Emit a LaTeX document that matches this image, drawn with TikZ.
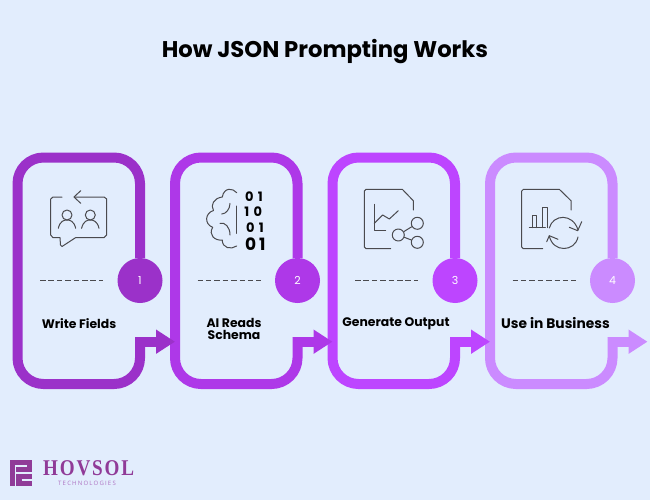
\documentclass[tikz,border=0pt]{standalone}
\usepackage{fontspec}
\setmainfont{Poppins}
\newfontfamily\logofont[LetterSpace=8,FakeStretch=0.85]{Liberation Serif}
\newfontfamily\subfont[LetterSpace=20]{Open Sans}
\usetikzlibrary{arrows.meta}
\definecolor{pagebg}{HTML}{E2EDFD}
\definecolor{stepa}{HTML}{9B31C9}
\definecolor{stepb}{HTML}{AE38E8}
\definecolor{stepc}{HTML}{BD45FF}
\definecolor{stepd}{HTML}{CB8BFF}
\definecolor{iconline}{HTML}{4A4A4E}
\definecolor{logocol}{HTML}{903B98}
\definecolor{logosub}{HTML}{AE72C2}
\tikzset{
  cardline/.style={line width=10pt,line join=miter},
  badge/.style={circle,minimum size=45pt,inner sep=0pt,text=white,font=\fontsize{11}{13}\selectfont},
  steptext/.style={align=center,font=\fontsize{12.4}{14.5}\selectfont\bfseries},
  iconpen/.style={draw=iconline,line width=1pt,line cap=round,line join=round},
  digit/.style={inner sep=0pt,font=\fontsize{13}{15}\selectfont\bfseries},
}
\begin{document}
\begin{tikzpicture}[x=1pt,y=-1pt]
  \useasboundingbox (0,0) rectangle (650,500);
  \fill[pagebg] (0,0) rectangle (650,500);
  \node[font=\fontsize{22.7}{26}\selectfont\bfseries] (title) at (325,51.5) {How JSON Prompting Works};
  % cards, last one first so each tip lies over the next card
  \foreach \n/\dx/\col in {4/472.5/stepd,3/315/stepc,2/157.5/stepb,1/0/stepa}{
    \node[badge,fill=\col] (badge\n) at (140+\dx,280.5) {\n};
    \coordinate (tip\n) at (175+\dx,341.7);
    \draw[cardline,\col,rounded corners=26pt] (badge\n.north) -- (140+\dx,157.5) -- (17.5+\dx,157.5)
      -- (17.5+\dx,384) -- (140+\dx,384) -- (140+\dx,337);
    \draw[\col,line width=10pt,-{Triangle[length=19pt,width=23pt]}] (135+\dx,341.7) -- (tip\n);
    \draw[iconpen,dash pattern=on 5.5pt off 2.9pt,line cap=butt] (40+\dx,280) -- (103+\dx,280);
  }
  \node[steptext] (fields) at (79,323.5) {Write Fields};
  \node[steptext] (schema) at (234,329) {AI Reads\\[-2.5pt]Schema};
  \node[steptext] (output) at (396,323.5) {Generate Output};
  \node[steptext,font=\fontsize{13.8}{16}\selectfont\bfseries] (business) at (555.5,323.5) {Use in Business};
  % icon 1
  \draw[iconpen] (62,197) -- (53,197) -- (50.7,199) -- (50.7,235) -- (53,237.7) -- (60,237.7)
    -- (60.5,245) -- (62,246.5) -- (75.5,237.7) -- (104,237.7) -- (106.7,235) -- (106.7,199) -- (104,197) -- (74,197);
  \draw[iconpen] (80.7,190.7) -- (74,197) -- (80.7,203.3);
  \foreach \px in {67,90.3}{
    \draw[iconpen] (\px,215) circle (5);
    \draw[iconpen] (\px-8.7,228.3) .. controls (\px-7,221) and (\px-3,220) .. (\px,220)
      .. controls (\px+3,220) and (\px+7,221) .. (\px+8.7,228.3);
  }
  % icon 2
  \draw[iconpen] (236.7,233.3) -- (236.7,206);
  \draw[iconpen] (236.7,192.7) .. controls (233,188) and (224,187) .. (222.3,197)
    .. controls (214,198) and (210,205) .. (213.5,210.5)
    .. controls (205,213) and (204,224) .. (212.7,227.3)
    .. controls (208,235) and (215,241) .. (222.3,240)
    .. controls (222,248) and (231,250) .. (236.7,246);
  \draw[iconpen] (230,203.3) .. controls (230,209) and (226,214) .. (221.7,214);
  \draw[iconpen] (220,223.3) .. controls (225,222) and (230,227) .. (230,235);
  \node[digit] (bita) at (254,197) {0\,\,1};
  \node[digit] (bitb) at (253.3,212) {1\,\,0};
  \node[digit] (bitc) at (255,228) {0\,\,1};
  \node[digit,font=\fontsize{17}{19}\selectfont\bfseries] (bitd) at (255.3,244) {0\,1};
  % icon 3
  \draw[iconpen] (390.7,248.7) -- (366,248.7) -- (364.3,247) -- (364.3,191) -- (366,189.3) -- (402.3,189.3)
    -- (413.3,200.7) -- (413.3,210);
  \draw[iconpen] (374.3,204.3) -- (374.3,230.7) -- (385.7,230.7);
  \draw[iconpen] (374.3,223.3) -- (382.7,215) -- (389.3,219) -- (398.3,210.7);
  \node[iconpen,circle,minimum size=12pt,inner sep=0pt] (hub) at (398.3,235) {};
  \node[iconpen,circle,minimum size=12pt,inner sep=0pt] (hubup) at (417.3,223.3) {};
  \node[iconpen,circle,minimum size=12pt,inner sep=0pt] (hubdown) at (417.3,242.3) {};
  \draw[iconpen] (hub) -- (hubup) (hub) -- (hubdown);
  % icon 4
  \draw[iconpen] (542.7,248.7) -- (523.4,248.7) -- (521.7,247) -- (521.7,191) -- (523.4,189.3) -- (559.3,189.3)
    -- (571,200.7) -- (571,210);
  \draw[iconpen] (529.3,227.7) -- (545.3,227.7);
  \draw[iconpen] (532,227.7) -- (532,215) -- (536.7,215) -- (536.7,227.7);
  \draw[iconpen] (542.3,227.7) -- (542.3,207.7) -- (547.3,207.7) -- (547.3,227.7);
  \draw[iconpen] (549.3,228) .. controls (553,214) and (573,213) .. (578,230);
  \draw[iconpen] (581.7,221.7) -- (577.7,230.7) -- (569.3,227.3);
  \draw[iconpen] (578,237) .. controls (575,252) and (553,253) .. (549.3,236);
  \draw[iconpen] (546.7,241.7) -- (549.3,235.7) -- (558,239.3);
  % logo
  \fill[logocol] (10,460) rectangle (32,486);
  \draw[pagebg,line width=1.3pt] (15.5,486) -- (15.5,466) -- (27,466) (15.5,473) -- (32,473) (21.5,480) -- (32,480);
  \node[text=logocol,font=\logofont\fontsize{22.5}{24}\selectfont\bfseries,inner sep=0pt,anchor=base west] (hovsol) at (43,475) {HOVSOL};
  \node[text=logosub,font=\subfont\fontsize{6}{8}\selectfont,inner sep=0pt,anchor=base west] (tech) at (58,485.7) {TECHNOLOGIES};
\end{tikzpicture}
\end{document}
